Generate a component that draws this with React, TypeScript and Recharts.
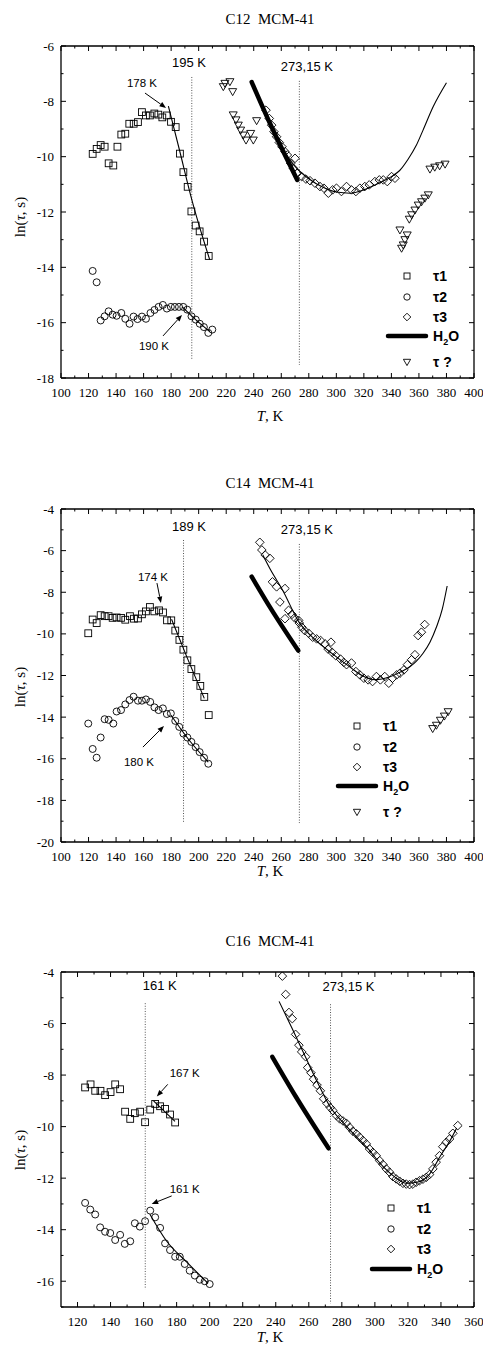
import { ComposedChart, Scatter, Line, XAxis, YAxis, ReferenceLine, ReferenceDot } from 'recharts'

// ---------- data (T in K, ln(tau, s)) ----------

// C12 MCM-41
const c12Tau1T = [123, 125.9, 128.8, 131.7, 134.6, 138, 141, 143.8, 146.7, 149.6, 152.8, 155.9, 158.8, 161.7, 164.6, 167.8, 170.7, 173.6, 176.8, 179.9, 183.3, 186.4, 188.9, 192, 194.7, 197.8, 200.7, 203.9, 207.3]
const c12Tau1Ln = [-9.9, -9.72, -9.58, -9.64, -10.24, -10.32, -9.64, -9.2, -9.17, -8.81, -8.81, -8.75, -8.39, -8.51, -8.51, -8.44, -8.48, -8.58, -8.51, -8.74, -8.93, -9.89, -10.56, -11.09, -11.98, -12.49, -12.7, -13.07, -13.59]
const c12Tau2T = [123, 125.9, 128.8, 131.7, 134.6, 137.5, 140.4, 143.8, 146.7, 149.8, 152.7, 155.6, 158.8, 161.7, 165, 167.9, 170.9, 174, 176.9, 179.8, 182.7, 185.7, 188.8, 191.7, 194.8, 197.9, 200.8, 203.8, 207, 209.9]
const c12Tau2Ln = [-14.13, -14.54, -15.92, -15.77, -15.59, -15.71, -15.75, -15.65, -15.86, -16.04, -15.78, -15.87, -15.78, -15.86, -15.65, -15.54, -15.43, -15.36, -15.49, -15.43, -15.43, -15.43, -15.43, -15.53, -15.77, -15.89, -16.04, -16.16, -16.37, -16.25]
const c12Tau3T = [248.9, 251.3, 253, 254.7, 256.6, 258.6, 260.5, 262.7, 264.4, 266.8, 268.8, 270, 271.7, 274.8, 277.9, 280.9, 284.5, 288.1, 291, 294.2, 297.3, 300.1, 303.7, 307.4, 311, 314.2, 317.1, 320.7, 323.9, 328, 331.2, 334.1, 337, 340.1, 342.6]
const c12Tau3Ln = [-8.32, -8.62, -8.86, -9.1, -9.28, -9.49, -9.64, -9.82, -9.94, -10.24, -10.42, -10.06, -10.6, -10.72, -10.81, -10.87, -10.96, -11.08, -11.14, -11.32, -11.2, -11.14, -11.26, -11.08, -11.2, -11.26, -11.14, -11.08, -11.02, -10.9, -10.84, -10.84, -10.9, -10.72, -10.78]
const c12TauQT = [217.9, 219.1, 222.7, 224.7, 225.1, 227.1, 228.8, 230.5, 232.4, 234.4, 237.8, 239.7, 242.1, 346.2, 347.4, 348.6, 349.8, 351.5, 353, 354.7, 357.1, 359.5, 361.9, 364.3, 366.8, 368, 371.5, 375, 379]
const c12TauQLn = [-7.47, -7.35, -7.29, -7.65, -8.49, -8.67, -8.86, -9.04, -9.22, -9.4, -9.16, -9.4, -8.7, -12.65, -13.31, -13.19, -13.0, -12.83, -12.26, -12.1, -11.93, -11.75, -11.63, -11.5, -11.38, -10.45, -10.38, -10.33, -10.27]
const c12H2OT = [238.5, 252, 271.6]
const c12H2OLn = [-7.3, -8.82, -10.84]
const c12Fit1T = [178, 186, 195, 208]
const c12Fit1Ln = [-8.17, -9.75, -11.55, -13.72]
const c12Fit2T = [188, 198, 208]
const c12Fit2Ln = [-15.43, -15.9, -16.32]
const c12Fit3T = [249, 255, 262, 270, 280, 290, 300, 310, 320, 330, 340, 346, 352, 358, 363, 370.4, 380]
const c12Fit3Ln = [-8.5, -9.2, -9.8, -10.35, -10.8, -11.1, -11.28, -11.32, -11.2, -10.98, -10.72, -10.5, -10.1, -9.6, -9.04, -8.19, -7.33]

// C14 MCM-41
const c14Tau1T = [119.8, 123, 125.9, 128.8, 131.7, 134.6, 137.5, 140.4, 143.6, 146.7, 150.1, 153, 155.9, 158.8, 161.7, 164.6, 167.8, 171.2, 174.1, 177, 180.1, 183, 186, 188.9, 191.8, 194.7, 198.3, 201.2, 204.1, 207.3]
const c14Tau1Ln = [-9.97, -9.31, -9.48, -9.1, -9.15, -9.15, -9.23, -9.21, -9.23, -9.32, -9.15, -9.27, -9.26, -9.06, -8.92, -8.71, -8.92, -8.87, -8.97, -9.35, -9.35, -9.84, -10.29, -10.76, -11.27, -11.69, -12.08, -12.5, -13.03, -13.9]
const c14Tau2T = [119.8, 123, 125.9, 128.8, 131.7, 134.6, 138, 140.4, 143.6, 146.7, 149.8, 152.7, 155.9, 158.8, 161.7, 164.8, 167.9, 170.9, 174, 176.9, 179.8, 183, 185.9, 188.9, 191.8, 194.7, 197.8, 200.7, 203.9, 207]
const c14Tau2Ln = [-14.31, -15.53, -15.95, -14.98, -14.1, -14.13, -14.31, -13.73, -13.66, -13.39, -13.18, -13.02, -13.21, -13.21, -13.15, -13.27, -13.53, -13.66, -13.58, -13.85, -13.82, -14.18, -14.47, -14.79, -14.98, -15.19, -15.44, -15.68, -15.95, -16.24]
const c14Tau3T = [244.4, 245.9, 248.3, 251.7, 253.6, 256.6, 259, 262.7, 262.7, 265.3, 267.8, 269.7, 272.6, 273.1, 275, 277, 279.9, 282.8, 285.7, 288.6, 291.8, 294, 296.1, 297, 299.6, 303, 305.4, 307.4, 311, 314.2, 317.1, 320, 323.1, 326.3, 329.1, 332, 335.2, 338.1, 340.8, 343.8, 346.2, 349.1, 351.6, 354.7, 357.1, 359.4, 361.8, 364.2]
const c14Tau3Ln = [-5.6, -5.97, -6.21, -6.37, -7.5, -7.74, -8.47, -7.82, -9.27, -8.87, -9.06, -9.23, -9.35, -9.48, -9.68, -9.84, -9.97, -10.16, -10.24, -10.32, -10.48, -10.73, -10.4, -10.89, -11.05, -11.21, -11.37, -11.48, -11.4, -11.81, -11.97, -12.13, -12.21, -12.29, -12.05, -12.21, -12.05, -12.37, -12.13, -11.97, -11.89, -11.73, -11.48, -11.24, -11.0, -10.08, -9.92, -9.55]
const c14TauQT = [370, 372.7, 375.6, 378.5, 381.2]
const c14TauQLn = [-14.55, -14.39, -14.15, -13.95, -13.74]
const c14H2OT = [238.5, 252, 272.3]
const c14H2OLn = [-7.25, -8.74, -10.8]
const c14Fit1T = [180.3, 192, 204.1]
const c14Fit1Ln = [-9.3, -11.2, -13.1]
const c14Fit2T = [179.8, 193, 207]
const c14Fit2Ln = [-13.9, -15.1, -16.16]
const c14Fit3T = [246.5, 252, 261, 273, 285, 297, 310, 320, 328, 338.9, 346, 353.4, 358, 363, 368, 372.8, 377, 380.5]
const c14Fit3Ln = [-6.2, -6.9, -7.9, -9.45, -10.3, -10.95, -11.6, -12.05, -12.2, -12.06, -11.85, -11.58, -11.32, -10.93, -10.4, -9.66, -8.8, -7.7]

// C16 MCM-41
const c16Tau1T = [124.6, 127.9, 130.7, 133.9, 136.7, 140, 142.8, 145.8, 148.8, 151.9, 154.7, 157.9, 160.9, 164, 167, 170, 173, 176, 179.1]
const c16Tau1Ln = [-8.48, -8.36, -8.61, -8.61, -8.78, -8.66, -8.36, -8.55, -9.42, -9.7, -9.48, -9.42, -9.83, -9.34, -9.12, -9.21, -9.31, -9.53, -9.84]
const c16Tau2T = [124.6, 127.7, 130.7, 133.7, 136.7, 139.8, 142.8, 145.8, 148.6, 151.9, 154.7, 157.7, 160.9, 164, 167, 170, 173, 176, 179.1, 181.9, 184.9, 187.9, 191, 194, 197, 200]
const c16Tau2Ln = [-12.96, -13.22, -13.41, -13.91, -14.08, -14.13, -14.4, -14.2, -14.55, -14.45, -13.75, -13.88, -13.67, -13.26, -13.52, -13.93, -14.53, -14.79, -15.05, -15.05, -15.33, -15.59, -15.78, -15.94, -16.0, -16.11]
const c16Tau3T = [244, 246, 248, 250, 252, 254, 255.7, 258.1, 259.3, 261.3, 262.9, 265, 267, 269, 271, 273, 274.6, 276.7, 278.7, 280.7, 282.7, 284.7, 286.7, 288.8, 290.8, 292.8, 294.8, 296.8, 298.8, 300.8, 302.9, 304.9, 306.9, 308.9, 310.9, 312.9, 315, 317, 319, 321, 323, 325, 327, 329.1, 331.1, 333.1, 335.1, 337.1, 339.1, 341.1, 343.2, 345.2, 347.2, 350.2]
const c16Tau3Ln = [-4.16, -4.87, -5.57, -5.81, -6.42, -6.84, -7.1, -7.29, -7.71, -7.91, -8.16, -8.39, -8.61, -8.92, -9.1, -9.26, -9.38, -9.57, -9.7, -9.78, -9.87, -10.03, -10.18, -10.28, -10.41, -10.54, -10.67, -10.87, -11.0, -11.13, -11.32, -11.47, -11.64, -11.77, -11.94, -12.03, -12.12, -12.2, -12.23, -12.25, -12.23, -12.16, -12.1, -12.04, -11.97, -11.86, -11.64, -11.38, -11.13, -10.78, -10.61, -10.48, -10.26, -9.96]
const c16H2OT = [237.9, 252, 272]
const c16H2OLn = [-7.29, -8.82, -10.84]
const c16Fit1T = [166, 179]
const c16Fit1Ln = [-9.0, -9.8]
const c16Fit2T = [163.8, 174, 186, 199]
const c16Fit2Ln = [-13.4, -14.45, -15.25, -16.08]
const c16Fit3T = [242, 250, 258, 265, 272.6, 283, 295, 305, 312, 319, 326, 333, 340, 345, 349.5]
const c16Fit3Ln = [-5.14, -6.2, -7.3, -8.25, -9.2, -10.0, -10.8, -11.55, -11.95, -12.2, -12.15, -11.85, -11.1, -10.6, -10.05]

// ticks
const ticksX300 = [100, 110, 120, 130, 140, 150, 160, 170, 180, 190, 200, 210, 220, 230, 240, 250, 260, 270, 280, 290, 300, 310, 320, 330, 340, 350, 360, 370, 380, 390, 400]
const majorsX300 = [100, 120, 140, 160, 180, 200, 220, 240, 260, 280, 300, 320, 340, 360, 380, 400]
const ticksX250 = [120, 130, 140, 150, 160, 170, 180, 190, 200, 210, 220, 230, 240, 250, 260, 270, 280, 290, 300, 310, 320, 330, 340, 350, 360]
const majorsX250 = [120, 140, 160, 180, 200, 220, 240, 260, 280, 300, 320, 340, 360]
const c12YTicks = [-18, -17, -16, -15, -14, -13, -12, -11, -10, -9, -8, -7, -6]
const c12YMajors = [-18, -16, -14, -12, -10, -8, -6]
const c14YTicks = [-20, -19, -18, -17, -16, -15, -14, -13, -12, -11, -10, -9, -8, -7, -6, -5, -4]
const c14YMajors = [-20, -18, -16, -14, -12, -10, -8, -6, -4]
const c16YTicks = [-17, -16, -15, -14, -13, -12, -11, -10, -9, -8, -7, -6, -5, -4]
const c16YMajors = [-16, -14, -12, -10, -8, -6, -4]

// ---------- helpers ----------

type Pt = { x: number; y: number }
const zip = (t: number[], v: number[]): Pt[] => t.map((x, i) => ({ x, y: v[i] }))

const SERIF = '"Liberation Serif", "Times New Roman", serif'
const SANS = '"Liberation Sans", Arial, sans-serif'

const Square = ({ cx, cy, s = 3.4 }: any) => (
  <rect x={cx - s} y={cy - s} width={2 * s} height={2 * s} fill="none" stroke="#000" strokeWidth={0.9} />
)
const Circle = ({ cx, cy, r = 3.5 }: any) => (
  <circle cx={cx} cy={cy} r={r} fill="none" stroke="#000" strokeWidth={0.9} />
)
const Diamond = ({ cx, cy, s = 4.3 }: any) => (
  <polygon points={`${cx},${cy - s} ${cx + s},${cy} ${cx},${cy + s} ${cx - s},${cy}`} fill="none" stroke="#000" strokeWidth={0.9} />
)
const TriDown = ({ cx, cy, s = 4 }: any) => (
  <polygon points={`${cx - s},${cy - s * 0.75} ${cx + s},${cy - s * 0.75} ${cx},${cy + s}`} fill="none" stroke="#000" strokeWidth={0.9} />
)

type Side = 'bottom' | 'top' | 'left' | 'right'

const tickFor = (side: Side, majors: number[], labels: boolean) => (p: any) => {
  const { x, y, payload } = p
  const v = payload.value
  const major = majors.includes(v)
  const len = major ? 5 : 2.5
  const end =
    side === 'bottom' ? [x, y - len] : side === 'top' ? [x, y + len] : side === 'left' ? [x + len, y] : [x - len, y]
  return (
    <g>
      <line x1={x} y1={y} x2={end[0]} y2={end[1]} stroke="#000" strokeWidth={1} />
      {labels && major && side === 'bottom' && (
        <text x={x} y={y + 19} textAnchor="middle" fontSize={13} fontFamily={SERIF} fill="#000">
          {v}
        </text>
      )}
      {labels && major && side === 'left' && (
        <text x={x - 7} y={y + 4.5} textAnchor="end" fontSize={13} fontFamily={SERIF} fill="#000">
          {v}
        </text>
      )}
    </g>
  )
}

const arrowShape = (p: any) => {
  const { x1, y1, x2, y2 } = p
  const a = Math.atan2(y2 - y1, x2 - x1)
  const L = 6.5
  const W = 2.6
  const bx = x2 - L * Math.cos(a)
  const by = y2 - L * Math.sin(a)
  const pts = `${x2},${y2} ${bx - W * Math.sin(a)},${by + W * Math.cos(a)} ${bx + W * Math.sin(a)},${by - W * Math.cos(a)}`
  return (
    <g>
      <line x1={x1} y1={y1} x2={bx} y2={by} stroke="#000" strokeWidth={1} />
      <polygon points={pts} fill="#000" />
    </g>
  )
}

const noteShape = (text: string, size: number) => (p: any) => (
  <text x={p.cx} y={p.cy + size * 0.36} textAnchor="middle" fontSize={size} fontFamily={SANS} fill="#000">
    {text}
  </text>
)

interface VLine { x: number; y1: number; y2: number }
interface Note { text: string; x: number; y: number; size: number }
interface Arrow { x1: number; y1: number; x2: number; y2: number }

interface PanelProps {
  top: number
  height: number
  plotTop: number
  plotBottom: number
  title: string
  titleY: number
  yLabelY: number
  xLabelY: number
  xDomain: [number, number]
  xTicks: number[]
  xMajors: number[]
  yDomain: [number, number]
  yTicks: number[]
  yMajors: number[]
  tau1: Pt[]
  tau2: Pt[]
  tau3: Pt[]
  tauQ?: Pt[]
  h2o: Pt[]
  fits: Pt[][]
  vlines: VLine[]
  notes: Note[]
  arrows: Arrow[]
  legendX: number
  legendRows: number[]
}

function Panel(props: PanelProps) {
  const { top, height, plotTop, plotBottom } = props
  const margin = { top: plotTop - 1, left: 21, right: 8, bottom: height - plotBottom - 30 }
  const lx = props.legendX
  const rows = props.legendRows
  const legendText = (y: number, content: any) => (
    <text x={lx + 26} y={y + 5} fontSize={14} fontWeight="bold" fontFamily={SANS} fill="#000">
      {content}
    </text>
  )
  return (
    <div style={{ position: 'absolute', left: 0, top, width: 483, height }}>
      <ComposedChart width={483} height={height} margin={margin}>
        <XAxis
          dataKey="x"
          type="number"
          domain={props.xDomain}
          allowDataOverflow
          ticks={props.xTicks}
          interval={0}
          height={30}
          tickSize={0}
          tickMargin={0}
          axisLine={{ stroke: '#000', strokeWidth: 1.3 }}
          tickLine={false}
          tick={tickFor('bottom', props.xMajors, true)}
        />
        <XAxis
          xAxisId="top"
          orientation="top"
          dataKey="x"
          type="number"
          domain={props.xDomain}
          allowDataOverflow
          ticks={props.xTicks}
          interval={0}
          height={1}
          tickSize={0}
          tickMargin={0}
          axisLine={{ stroke: '#000', strokeWidth: 1.3 }}
          tickLine={false}
          tick={tickFor('top', props.xMajors, false)}
        />
        <YAxis
          type="number"
          domain={props.yDomain}
          allowDataOverflow
          ticks={props.yTicks}
          interval={0}
          width={40}
          tickSize={0}
          tickMargin={0}
          axisLine={{ stroke: '#000', strokeWidth: 1.3 }}
          tickLine={false}
          tick={tickFor('left', props.yMajors, true)}
        />
        <YAxis
          yAxisId="right"
          orientation="right"
          type="number"
          domain={props.yDomain}
          allowDataOverflow
          ticks={props.yTicks}
          interval={0}
          width={1}
          tickSize={0}
          tickMargin={0}
          axisLine={{ stroke: '#000', strokeWidth: 1.3 }}
          tickLine={false}
          tick={tickFor('right', props.yMajors, false)}
        />
        {props.vlines.map((v, i) => (
          <ReferenceLine
            key={'v' + i}
            segment={[{ x: v.x, y: v.y1 }, { x: v.x, y: v.y2 }]}
            stroke="#555"
            strokeWidth={1}
            strokeDasharray="1 1.6"
          />
        ))}
        <Line data={props.h2o} dataKey="y" stroke="#000" strokeWidth={4.5} strokeLinecap="round" dot={false} type="monotone" isAnimationActive={false} />
        {props.fits.map((f, i) => (
          <Line key={'f' + i} data={f} dataKey="y" stroke="#000" strokeWidth={1.1} dot={false} type="monotone" isAnimationActive={false} />
        ))}
        <Scatter data={props.tau1} dataKey="y" shape={(p: any) => <Square cx={p.cx} cy={p.cy} />} isAnimationActive={false} />
        <Scatter data={props.tau2} dataKey="y" shape={(p: any) => <Circle cx={p.cx} cy={p.cy} />} isAnimationActive={false} />
        <Scatter data={props.tau3} dataKey="y" shape={(p: any) => <Diamond cx={p.cx} cy={p.cy} />} isAnimationActive={false} />
        {props.tauQ && (
          <Scatter data={props.tauQ} dataKey="y" shape={(p: any) => <TriDown cx={p.cx} cy={p.cy} />} isAnimationActive={false} />
        )}
        {props.arrows.map((a, i) => (
          <ReferenceLine key={'a' + i} segment={[{ x: a.x1, y: a.y1 }, { x: a.x2, y: a.y2 }]} shape={arrowShape} />
        ))}
        {props.notes.map((n, i) => (
          <ReferenceDot key={'n' + i} x={n.x} y={n.y} r={1} shape={noteShape(n.text, n.size)} />
        ))}
      </ComposedChart>
      <svg width={483} height={height} style={{ position: 'absolute', left: 0, top: 0, pointerEvents: 'none' }}>
        <text x={270} y={props.titleY + 5} textAnchor="middle" fontSize={15} fontFamily={SERIF} fill="#000" style={{ whiteSpace: 'pre' }}>
          {props.title}
        </text>
        <text transform={`translate(25, ${props.yLabelY}) rotate(-90)`} textAnchor="middle" fontSize={15} fontFamily={SERIF} fill="#000">
          ln(<tspan fontStyle="italic">τ</tspan>, s)
        </text>
        <text x={270} y={props.xLabelY + 5} textAnchor="middle" fontSize={15} fontFamily={SERIF} fill="#000">
          <tspan fontStyle="italic">T</tspan>, K
        </text>
        <Square cx={lx} cy={rows[0]} s={3} />
        {legendText(rows[0], 'τ1')}
        <Circle cx={lx} cy={rows[1]} r={3.2} />
        {legendText(rows[1], 'τ2')}
        <Diamond cx={lx} cy={rows[2]} s={3.8} />
        {legendText(rows[2], 'τ3')}
        <line x1={lx - 19} y1={rows[3]} x2={lx + 19} y2={rows[3]} stroke="#000" strokeWidth={4.5} strokeLinecap="round" />
        {legendText(
          rows[3],
          <>
            H<tspan fontSize={9} dy={4}>2</tspan>
            <tspan dy={-4}>O</tspan>
          </>
        )}
        {rows.length > 4 && <TriDown cx={lx} cy={rows[4]} s={3.6} />}
        {rows.length > 4 && legendText(rows[4], 'τ ?')}
      </svg>
    </div>
  )
}

export default function App() {
  return (
    <div style={{ position: 'absolute', left: 0, top: 0, width: 483, height: 1351, background: '#fff' }}>
      <Panel
        top={0}
        height={440}
        plotTop={46}
        plotBottom={378}
        title={'C12  MCM-41'}
        titleY={19}
        yLabelY={217}
        xLabelY={416}
        xDomain={[100, 400]}
        xTicks={ticksX300}
        xMajors={majorsX300}
        yDomain={[-18, -6]}
        yTicks={c12YTicks}
        yMajors={c12YMajors}
        tau1={zip(c12Tau1T, c12Tau1Ln)}
        tau2={zip(c12Tau2T, c12Tau2Ln)}
        tau3={zip(c12Tau3T, c12Tau3Ln)}
        tauQ={zip(c12TauQT, c12TauQLn)}
        h2o={zip(c12H2OT, c12H2OLn)}
        fits={[zip(c12Fit1T, c12Fit1Ln), zip(c12Fit2T, c12Fit2Ln), zip(c12Fit3T, c12Fit3Ln)]}
        vlines={[
          { x: 195, y1: -7.12, y2: -17.35 },
          { x: 273.15, y1: -7.26, y2: -17.53 },
        ]}
        notes={[
          { text: '195 K', x: 193, y: -6.6, size: 13 },
          { text: '273,15 K', x: 278.6, y: -6.72, size: 13 },
          { text: '178 K', x: 158.8, y: -7.34, size: 11.5 },
          { text: '190 K', x: 167.5, y: -16.84, size: 11.5 },
        ]}
        arrows={[
          { x1: 161, y1: -7.7, x2: 176.3, y2: -8.24 },
          { x1: 174.1, y1: -16.48, x2: 187.9, y2: -15.72 },
        ]}
        legendX={407}
        legendRows={[276, 297, 317, 336, 362]}
      />
      <Panel
        top={440}
        height={450}
        plotTop={69}
        plotBottom={402}
        title={'C14  MCM-41'}
        titleY={43}
        yLabelY={247}
        xLabelY={431}
        xDomain={[100, 400]}
        xTicks={ticksX300}
        xMajors={majorsX300}
        yDomain={[-20, -4]}
        yTicks={c14YTicks}
        yMajors={c14YMajors}
        tau1={zip(c14Tau1T, c14Tau1Ln)}
        tau2={zip(c14Tau2T, c14Tau2Ln)}
        tau3={zip(c14Tau3T, c14Tau3Ln)}
        tauQ={zip(c14TauQT, c14TauQLn)}
        h2o={zip(c14H2OT, c14H2OLn)}
        fits={[zip(c14Fit1T, c14Fit1Ln), zip(c14Fit2T, c14Fit2Ln), zip(c14Fit3T, c14Fit3Ln)]}
        vlines={[
          { x: 189, y1: -5.49, y2: -19.09 },
          { x: 273.15, y1: -5.68, y2: -19.09 },
        ]}
        notes={[
          { text: '189 K', x: 193, y: -4.82, size: 13 },
          { text: '273,15 K', x: 278.6, y: -5.0, size: 13 },
          { text: '174 K', x: 166.8, y: -7.27, size: 11.5 },
          { text: '180 K', x: 156.6, y: -16.16, size: 11.5 },
        ]}
        arrows={[
          { x1: 169.7, y1: -7.56, x2: 172.6, y2: -8.52 },
          { x1: 159.5, y1: -15.44, x2: 174.8, y2: -14.43 },
        ]}
        legendX={357}
        legendRows={[286, 307, 327, 346, 372]}
      />
      <Panel
        top={890}
        height={461}
        plotTop={82}
        plotBottom={417}
        title={'C16  MCM-41'}
        titleY={51}
        yLabelY={260}
        xLabelY={447}
        xDomain={[110, 360]}
        xTicks={ticksX250}
        xMajors={majorsX250}
        yDomain={[-17, -4]}
        yTicks={c16YTicks}
        yMajors={c16YMajors}
        tau1={zip(c16Tau1T, c16Tau1Ln)}
        tau2={zip(c16Tau2T, c16Tau2Ln)}
        tau3={zip(c16Tau3T, c16Tau3Ln)}
        h2o={zip(c16H2OT, c16H2OLn)}
        fits={[zip(c16Fit1T, c16Fit1Ln), zip(c16Fit2T, c16Fit2Ln), zip(c16Fit3T, c16Fit3Ln)]}
        vlines={[
          { x: 161, y1: -5.21, y2: -16.31 },
          { x: 273.15, y1: -5.25, y2: -16.86 },
        ]}
        notes={[
          { text: '161 K', x: 169.8, y: -4.51, size: 13 },
          { text: '273,15 K', x: 284, y: -4.55, size: 13 },
          { text: '167 K', x: 184.9, y: -7.9, size: 11.5 },
          { text: '161 K', x: 184.9, y: -12.41, size: 11.5 },
        ]}
        arrows={[
          { x1: 174.6, y1: -8.36, x2: 168, y2: -8.83 },
          { x1: 177, y1: -12.69, x2: 164.9, y2: -13.0 },
        ]}
        legendX={391}
        legendRows={[318, 339, 359, 379]}
      />
    </div>
  )
}
